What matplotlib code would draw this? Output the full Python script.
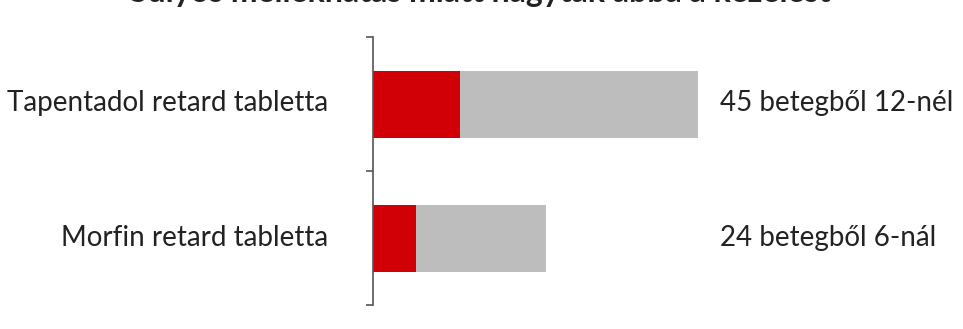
import matplotlib.pyplot as plt

categories = ['Tapentadol retard tabletta', 'Morfin retard tabletta']
total = [45, 24]
events = [12, 6]
right_labels = ['45 betegből 12-nél', '24 betegből 6-nál']

plt.rcParams['font.family'] = ['Lato', 'DejaVu Sans']

fig = plt.figure(figsize=(9.63, 3.29), dpi=100)
ax = fig.add_axes([373 / 963, 1 - 305 / 329, (698 - 373) / 963, (305 - 37) / 329])

ypos = list(range(len(categories)))
ax.barh(ypos, total, height=0.5, color='#bdbdbd')
ax.barh(ypos, events, height=0.5, color='#d10007')

ax.set_xlim(0, 45)
ax.set_ylim(1.5, -0.5)
for s in ['top', 'right', 'bottom']:
    ax.spines[s].set_visible(False)
ax.spines['left'].set_color('#555555')
ax.spines['left'].set_linewidth(1.2)
ax.set_xticks([])
ax.set_yticks([-0.5, 0.5, 1.5])
ax.set_yticklabels([])
ax.tick_params(axis='y', length=5, width=1.2, color='#555555')

for i, (c, r) in enumerate(zip(categories, right_labels)):
    yf = 1 - (103 + 135 * i) / 329
    fig.text(328 / 963, yf, c, ha='right', va='center', fontsize=20, color='#222222')
    fig.text(720 / 963, yf, r, ha='left', va='center', fontsize=20, color='#222222')

# title, cut off at the top edge as in the reference
fig.text(480 / 963, 1 - 2 / 329, 'Súlyos mellékhatás miatt hagyták abba a kezelést',
         ha='center', va='baseline', fontsize=23, fontweight='bold', color='#222222')

fig.savefig('out.png', dpi=100)
